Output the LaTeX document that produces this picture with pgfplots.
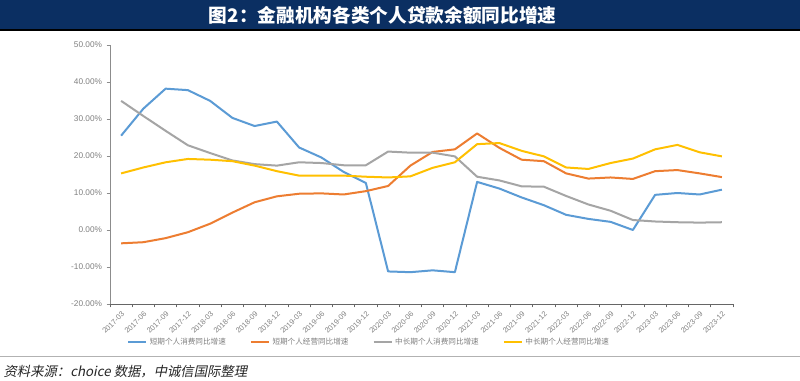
\documentclass[border=0pt]{standalone}
\usepackage{pgfplots}
\usepackage{pgfplotstable}
\usepackage{fontspec}
\pgfplotsset{compat=1.18}
\setmainfont{Liberation Sans}
\newfontfamily\cjk{Noto Sans CJK SC}
\newfontfamily\cjkit[FakeSlant=0.2]{Noto Sans CJK SC}
\definecolor{navy}{HTML}{0B2F62}
\definecolor{cblue}{HTML}{5B9BD5}
\definecolor{corange}{HTML}{ED7D31}
\definecolor{cgray}{HTML}{A5A5A5}
\definecolor{cyellow}{HTML}{FFC000}
\definecolor{txtgray}{HTML}{808080}

\pgfplotstableread{
idx blue orange gray yellow
0 25.5 -3.6 34.9 15.3
1 32.8 -3.3 30.8 16.9
2 38.2 -2.2 26.8 18.3
3 37.8 -0.6 22.9 19.2
4 34.9 1.7 20.8 19.0
5 30.3 4.7 18.8 18.6
6 28.1 7.5 17.8 17.4
7 29.3 9.1 17.4 15.9
8 22.3 9.8 18.3 14.7
9 19.6 9.9 18.1 14.7
10 15.7 9.6 17.5 14.7
11 12.7 10.5 17.5 14.4
12 -11.2 11.9 21.2 14.2
13 -11.4 17.4 20.9 14.5
14 -10.9 21.1 20.9 16.8
15 -11.4 21.8 19.9 18.3
16 13.0 26.1 14.4 23.2
17 11.2 22.2 13.4 23.5
18 8.8 19.0 11.8 21.4
19 6.7 18.6 11.7 19.9
20 4.1 15.3 9.2 16.9
21 3.0 13.9 6.9 16.5
22 2.2 14.2 5.2 18.1
23 0.0 13.8 2.7 19.3
24 9.5 15.9 2.3 21.8
25 10.0 16.2 2.1 23.0
26 9.6 15.3 2.0 21.0
27 10.9 14.3 2.1 19.9
}\datatable

\begin{document}
\begin{tikzpicture}
\path[use as bounding box, fill=white] (0,0) rectangle (600pt,-285.75pt);
% title bar
\fill[navy] (0,0) rectangle (600pt,-22.5pt);
\draw[black, line width=1.5pt] (0,-22.6pt) -- (600pt,-22.6pt);
\node[text=white, font=\cjk\bfseries\fontsize{14}{16}\selectfont] at (287pt,-11.5pt) {图2：金融机构各类个人贷款余额同比增速};
% bottom separator and source
\draw[gray!60, line width=0.6pt] (0,-267pt) -- (600pt,-267pt);
\node[anchor=west, text=black!85, font=\cjkit\fontsize{10}{12}\selectfont, inner sep=0pt] at (2.5pt,-278.5pt) {资料来源：choice 数据，中诚信国际整理};

\begin{axis}[
  at={(82.5pt,-228pt)}, anchor=south west,
  scale only axis, width=467.25pt, height=194.25pt,
  xmin=-0.5, xmax=27.5, ymin=-20, ymax=50,
  axis lines=left,
  x axis line style={-, draw=black!60, line width=0.6pt},
  y axis line style={-, draw=black!45, line width=0.6pt},
  tick align=outside, major tick length=2.5pt,
  xtick={-0.5,0.5,...,27.5},
  xticklabels={2017-03,2017-06,2017-09,2017-12,2018-03,2018-06,2018-09,2018-12,2019-03,2019-06,2019-09,2019-12,2020-03,2020-06,2020-09,2020-12,2021-03,2021-06,2021-09,2021-12,2022-03,2022-06,2022-09,2022-12,2023-03,2023-06,2023-09,2023-12,{}},
  xticklabel style={xshift=8.36pt, yshift=-1pt, rotate=45, anchor=north east, font=\fontsize{5.6}{6}\selectfont, text=txtgray, inner sep=1pt},
  xtick style={draw=black!60, line width=0.6pt},
  ytick={-20,-10,...,50},
  yticklabel={\pgfmathprintnumber[fixed,fixed zerofill,precision=2]{\tick}\%},
  yticklabel style={font=\fontsize{6.2}{7}\selectfont, text=txtgray},
  ytick style={draw=black!45, line width=0.6pt},
  /pgf/number format/assume math mode=true,
  legend columns=4,
  legend style={at={(0.4165,-0.147)}, anchor=center, draw=none, fill=none,
     font=\cjk\fontsize{5.7}{7}\selectfont, text=txtgray,
     /tikz/every even column/.append style={column sep=16pt}},
  legend image code/.code={\draw[#1] (0pt,0pt) -- (13.5pt,0pt);},
  every axis plot/.append style={line width=1.5pt, mark=none, line join=round},
]
\addplot[cblue] table[x=idx, y=blue] {\datatable};
\addlegendentry{短期个人消费同比增速}
\addplot[corange] table[x=idx, y=orange] {\datatable};
\addlegendentry{短期个人经营同比增速}
\addplot[cgray] table[x=idx, y=gray] {\datatable};
\addlegendentry{中长期个人消费同比增速}
\addplot[cyellow] table[x=idx, y=yellow] {\datatable};
\addlegendentry{中长期个人经营同比增速}
\end{axis}
\end{tikzpicture}
\end{document}
